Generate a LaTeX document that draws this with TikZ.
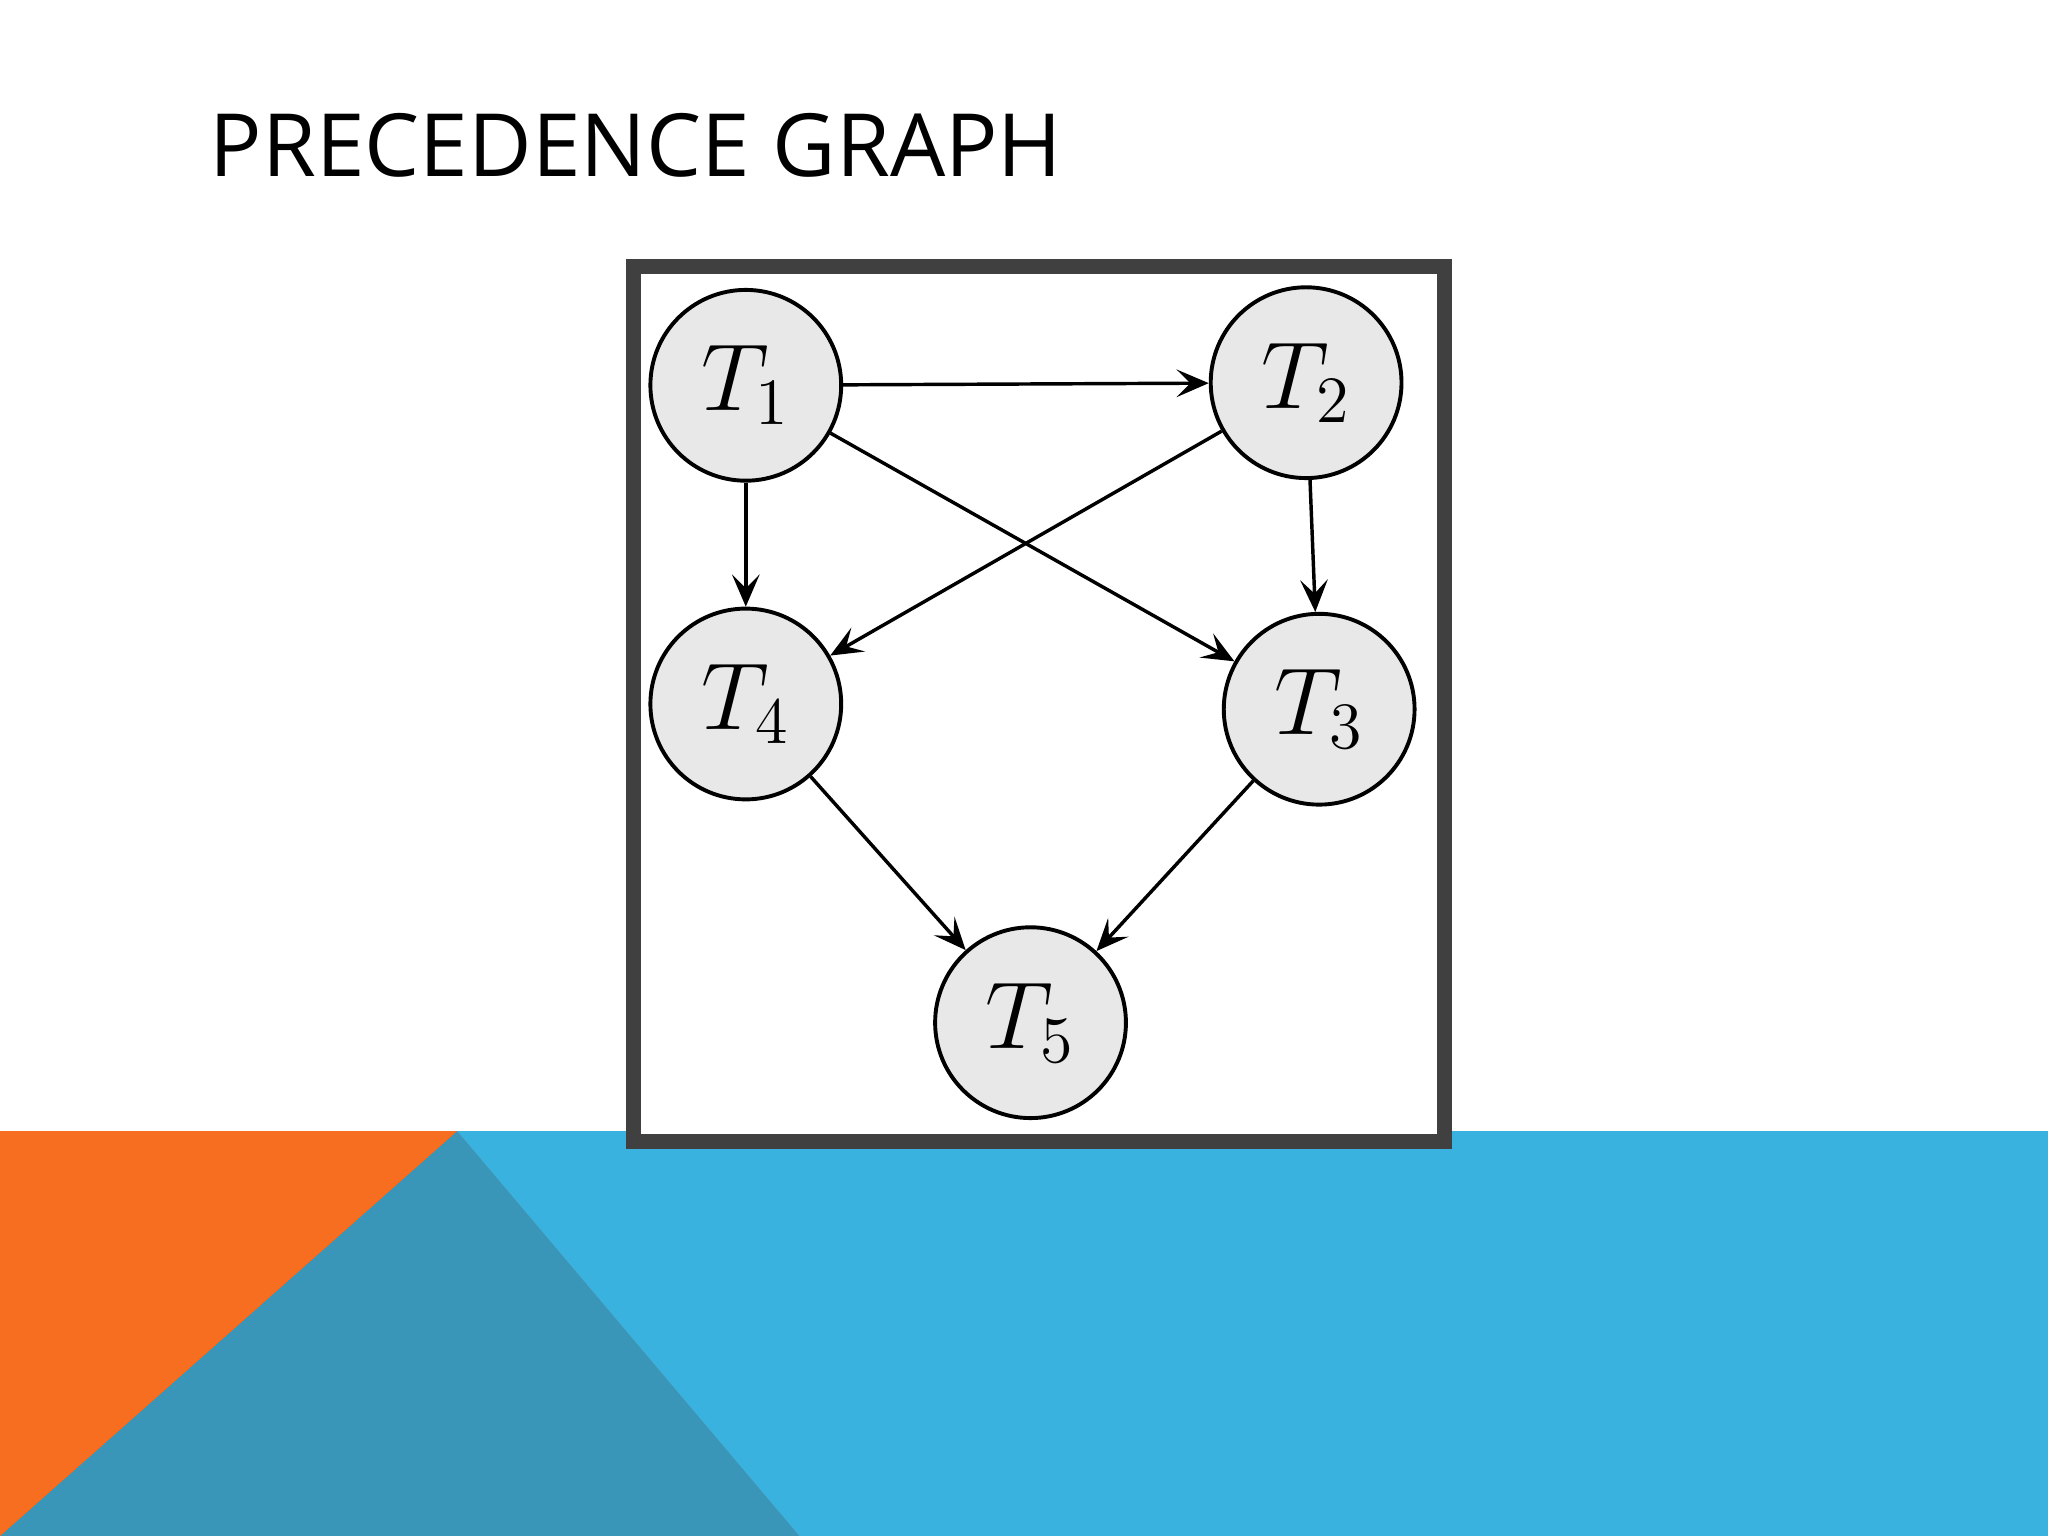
\documentclass[tikz,border=0pt]{standalone}
\usepackage{fontspec}
\newfontfamily\titlefont{Open Sans}
\usetikzlibrary{arrows.meta}
\definecolor{band}{HTML}{3AB2DF}
\definecolor{teal}{HTML}{3A96B8}
\definecolor{orng}{HTML}{F86E20}
\definecolor{frm}{HTML}{404040}
\definecolor{nodefill}{HTML}{E8E8E8}
\begin{document}
\begin{tikzpicture}[x=0.01cm,y=-0.01cm,
  task/.style={circle,draw=black,fill=nodefill,line width=0.85pt,minimum size=1.46cm,inner sep=0pt,font=\fontsize{21}{24}\selectfont},
  arr/.style={line width=0.75pt,-{Stealth[length=7pt,width=6pt,inset=3pt]}}]
\useasboundingbox (0,0) rectangle (1568,1176);
\fill[white] (0,0) rectangle (1568,1176);
\fill[band] (0,866) rectangle (1568,1176);
\fill[orng] (0,866) -- (350,866) -- (0,1176) -- cycle;
\fill[teal] (350,866) -- (612,1176) -- (0,1176) -- cycle;
\node[anchor=base west,inner sep=0pt,font=\titlefont\fontsize{19}{22}\selectfont] (title) at (160,135) {PRECEDENCE GRAPH};
\fill[white] (485,204) rectangle (1106,874);
\draw[frm,line width=3.4pt] (485,204) rectangle (1106,874);
\node[task] (t1) at (571,295) {$T_1$};
\node[task] (t2) at (1000,293) {$T_2$};
\node[task] (t4) at (571,539) {$T_4$};
\node[task] (t3) at (1010,543) {$T_3$};
\node[task] (t5) at (789,783) {$T_5$};
\draw[arr] (t1) -- (t2);
\draw[arr] (t1) -- (t4);
\draw[arr] (t1) -- (t3);
\draw[arr] (t2) -- (t4);
\draw[arr] (t2) -- (t3);
\draw[arr] (t4) -- (t5);
\draw[arr] (t3) -- (t5);
\end{tikzpicture}
\end{document}
